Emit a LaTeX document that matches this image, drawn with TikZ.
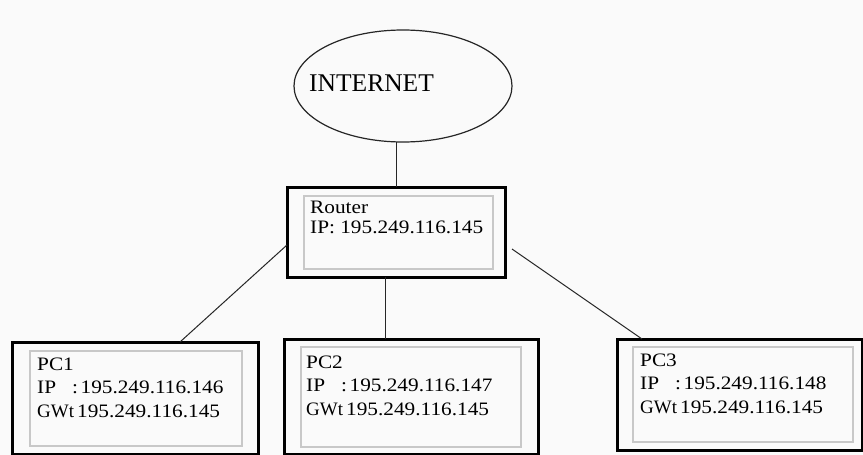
\documentclass[tikz,border=0pt]{standalone}
\usepackage{fontspec}
\setmainfont{Liberation Serif}
\newfontfamily\boxfont[FakeStretch=1.12]{Liberation Serif}
\usetikzlibrary{shapes.geometric,calc}
\definecolor{bgcol}{RGB}{250,250,250}
\definecolor{innercol}{RGB}{200,200,200}
\tikzset{
  outerbox/.style={draw=black, line width=3pt, rectangle, inner sep=0pt, outer sep=0pt},
  innerbox/.style={draw=innercol, line width=1.5pt},
  link/.style={draw=black!85, line width=1pt},
  pctext/.style={anchor=base west, inner sep=0pt, align=left, font=\boxfont\fontsize{19}{23.5}\selectfont},
  rtext/.style={anchor=base west, inner sep=0pt, align=left, font=\boxfont\fontsize{19}{20}\selectfont},
}
\newcommand{\gwlbl}{\makebox[40pt][l]{\rmfamily GWt}}
\newcommand{\iplbl}{\makebox[35pt][l]{IP}:\hspace{2.5pt}}
\begin{document}
\begin{tikzpicture}[x=1pt,y=-1pt]
\fill[bgcol] (0,0) rectangle (863,455);
\useasboundingbox (0,0) rectangle (863,455);

% Internet cloud
\node[ellipse, draw=black!85, line width=1.2pt, minimum width=218pt, minimum height=112pt, inner sep=0pt, outer sep=0pt] (inet) at (403,86) {};
\node[anchor=base west, inner sep=0pt, font=\fontsize{25.5}{28}\selectfont] (inettxt) at (309,91) {INTERNET};

% Router
\node[outerbox, minimum width=218pt, minimum height=90pt] (router) at (396,232) {};
\draw[innerbox] (304,196) rectangle (493,269);
\node[rtext] (routertxt) at (310,233) {Router\\IP: 195.249.116.145};

% PCs
\node[outerbox, minimum width=246pt, minimum height=112pt] (pc1) at (135,398) {};
\draw[innerbox] (30,351) rectangle (242,446);
\node[pctext] (pc1txt) at (37,417) {PC1\\\iplbl195.249.116.146\\\gwlbl195.249.116.145};

\node[outerbox, minimum width=254pt, minimum height=115pt] (pc2) at (411,396.5) {};
\draw[innerbox] (301,347) rectangle (521,447);
\node[pctext] (pc2txt) at (306,415) {PC2\\\iplbl195.249.116.147\\\gwlbl195.249.116.145};

\node[outerbox, minimum width=245pt, minimum height=111pt] (pc3) at (739.5,394.5) {};
\draw[innerbox] (633,347) rectangle (853,442);
\node[pctext] (pc3txt) at (640,413) {PC3\\\iplbl195.249.116.148\\\gwlbl195.249.116.145};

% Connectors
\draw[link] (router.north) -- (router.north |- inet.south);
\coordinate (rleft) at ([yshift=-13pt]router.west);
\coordinate (p1top) at ([xshift=45pt]pc1.north);
\draw[link] (rleft) -- (p1top);
\coordinate (rbot) at ([xshift=-11pt]router.south);
\draw[link] (rbot) -- (rbot |- pc2.north);
\coordinate (rright) at ([xshift=7pt,yshift=-17pt]router.east);
\coordinate (p3top) at ([xshift=-97.5pt]pc3.north);
\draw[link] (rright) -- (p3top);
\end{tikzpicture}
\end{document}
